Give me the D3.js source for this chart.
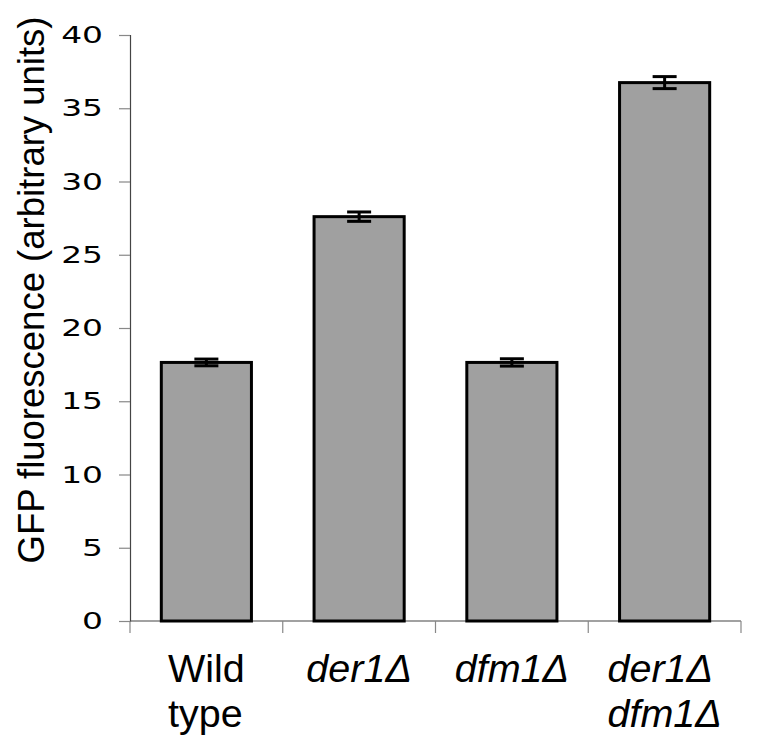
<!DOCTYPE html>
<html lang="en">
<head>
  <meta charset="UTF-8">
  <title>GFP fluorescence</title>
  <script src="https://cdn.jsdelivr.net/npm/d3@7"></script>
  <style>
    body { margin: 0; background: #fff; }
  </style>
</head>
<body>
  <svg width="759" height="738"></svg>
  <script>
    // data
    var strains = ["wt", "der1", "dfm1", "double"];
    var labelLines = [["Wild", "type"], ["der1Δ"], ["dfm1Δ"], ["der1Δ", "dfm1Δ"]];
    var labelItalic = [false, true, true, true];
    var means = [17.65, 27.6, 17.65, 36.75];
    var errors = [0.23, 0.32, 0.25, 0.41];
    var yTicks = [0, 5, 10, 15, 20, 25, 30, 35, 40];

    // plot area (note: "top" is reserved on window)
    var plotLeft = 130, plotRight = 741, plotTop = 35, plotBottom = 621;

    var svg = d3.select("svg");

    var x = d3.scaleBand().domain(strains).range([plotLeft, plotRight])
      .paddingInner(0.41).paddingOuter(0.205);
    var y = d3.scaleLinear().domain([0, 40]).range([plotBottom, plotTop]);

    // y axis
    var yAxis = d3.axisLeft(y).tickValues(yTicks).tickSize(11);
    var gy = svg.append("g").attr("transform", "translate(" + plotLeft + ",0)").call(yAxis);
    gy.select(".domain").attr("stroke", "#444").attr("stroke-width", 1.2);
    gy.selectAll(".tick line").attr("stroke", "#888").attr("stroke-width", 1.2);
    // the original digits are stretched sideways
    gy.selectAll(".tick text")
      .attr("x", 0)
      .attr("transform", "translate(-27,0) scale(1.4,1)")
      .style("font-family", "DejaVu Sans, Verdana, sans-serif")
      .style("font-size", "23.5px")
      .attr("fill", "#000");

    // x axis line and category boundary ticks
    svg.append("line")
      .attr("x1", plotLeft).attr("x2", plotRight)
      .attr("y1", y(0)).attr("y2", y(0))
      .attr("stroke", "#444").attr("stroke-width", 1.2);
    svg.selectAll(".xtick")
      .data(d3.range(strains.length + 1))
      .enter().append("line")
      .attr("class", "xtick")
      .attr("x1", function(i) { return plotLeft + i * x.step(); })
      .attr("x2", function(i) { return plotLeft + i * x.step(); })
      .attr("y1", y(0)).attr("y2", y(0) + 12)
      .attr("stroke", "#888").attr("stroke-width", 1.2);

    // bars
    svg.selectAll(".bar")
      .data(strains)
      .enter().append("rect")
      .attr("class", "bar")
      .attr("x", function(d) { return x(d); })
      .attr("width", x.bandwidth())
      .attr("y", function(d, i) { return y(means[i]); })
      .attr("height", function(d, i) { return y(0) - y(means[i]); })
      .attr("fill", "#a0a0a0")
      .attr("stroke", "#000")
      .attr("stroke-width", 3);

    // error bars
    var err = svg.selectAll(".err")
      .data(strains)
      .enter().append("g")
      .attr("class", "err")
      .attr("transform", function(d) { return "translate(" + (x(d) + x.bandwidth() / 2) + ",0)"; });
    err.append("line")
      .attr("y1", function(d, i) { return y(means[i] + errors[i]); })
      .attr("y2", function(d, i) { return y(means[i] - errors[i]); })
      .attr("stroke", "#000").attr("stroke-width", 3);
    err.append("line")
      .attr("x1", -12).attr("x2", 12)
      .attr("y1", function(d, i) { return y(means[i] + errors[i]); })
      .attr("y2", function(d, i) { return y(means[i] + errors[i]); })
      .attr("stroke", "#000").attr("stroke-width", 3);
    err.append("line")
      .attr("x1", -12).attr("x2", 12)
      .attr("y1", function(d, i) { return y(means[i] - errors[i]); })
      .attr("y2", function(d, i) { return y(means[i] - errors[i]); })
      .attr("stroke", "#000").attr("stroke-width", 3);

    // category labels, lines left-aligned as a block centred on the band
    strains.forEach(function(s, i) {
      var g = svg.append("g");
      var t = g.append("text")
        .style("font-family", "Liberation Sans, Arial, sans-serif")
        .style("font-size", "39.5px")
        .style("font-style", labelItalic[i] ? "italic" : "normal")
        .attr("fill", "#000");
      labelLines[i].forEach(function(line, j) {
        t.append("tspan").attr("x", 0).attr("y", 682 + j * 45).text(line);
      });
      var w = t.node().getBBox().width;
      g.attr("transform", "translate(" + (x(s) + x.bandwidth() / 2 - w / 2) + ",0)");
    });

    // y axis title
    svg.append("text")
      .attr("transform", "translate(44,290) rotate(-90)")
      .attr("text-anchor", "middle")
      .style("font-family", "Liberation Sans, Arial, sans-serif")
      .style("font-size", "36.5px")
      .attr("fill", "#000")
      .text("GFP fluorescence (arbitrary units)");
  </script>
</body>
</html>
